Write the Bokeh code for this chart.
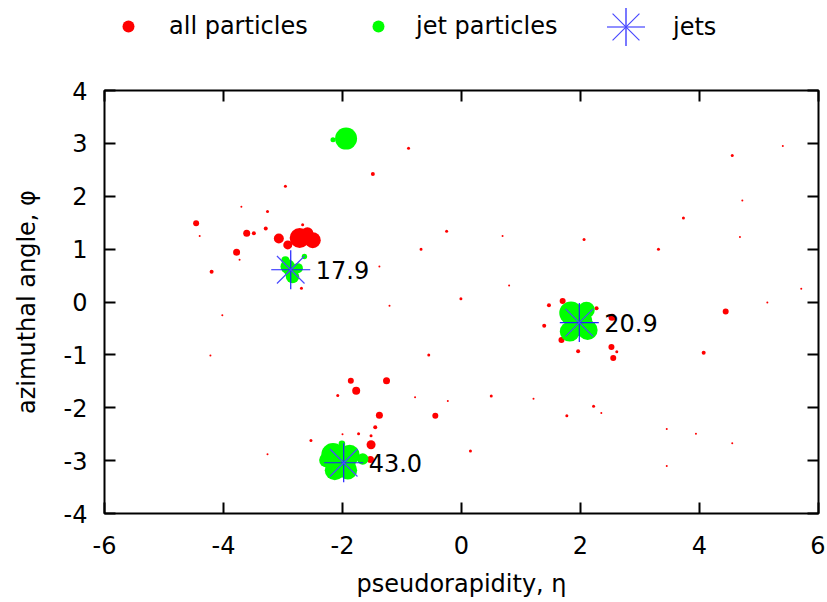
import numpy as np
from bokeh.plotting import figure
from bokeh.layouts import column
from bokeh.models import Range1d, FixedTicker, LinearAxis, Legend, LegendItem, ColumnDataSource
from bokeh.embed import file_html
from bokeh.resources import INLINE
from bokeh.core.properties import value

# ---------------- data ----------------
all_eta = [-4.46, -4.40, -3.61, -3.49, -3.29, -3.26, -3.70, -3.07, -2.92, -2.72,
           -2.50, -2.59, -2.67, -3.78, -3.73, -4.20, -4.02, -2.69, -2.96, -1.49,
           -0.89, 4.55, 5.40, 4.72, 3.73, -0.25, 0.69, 2.06, 3.31, -0.68,
           -1.38, 4.68, 4.44, 4.07, -0.01, -1.21, 0.80, -4.22, -0.55, 5.14,
           5.71, 1.70, 1.47, 1.39, 1.68, 1.96, 2.52, 2.55, 2.61, 2.53,
           2.27, -1.86, -1.26, -1.77, -2.08, -0.78, -0.23, 0.50, 1.21, -1.38,
           -0.44, -1.45, -1.52, -1.73, -2.00, -2.53, -1.52, -1.53, -3.26, 0.15,
           1.77, 2.22, 2.35, 3.45, 3.94, 4.55, 3.45]
all_phi = [1.49, 1.25, 1.30, 1.30, 1.39, 1.71, 1.80, 1.20, 1.08, 1.21,
           1.17, 1.30, 1.46, 0.94, 0.80, 0.57, -0.25, 0.26, 2.19, 2.42,
           2.91, 2.77, 2.95, 1.92, 1.59, 1.34, 1.25, 1.18, 1.00, 1.00,
           0.67, 1.23, -0.18, -0.96, 0.06, -0.07, 0.31, -1.01, -1.00, -0.01,
           0.25, 0.02, -0.06, -0.45, -0.72, -0.93, -0.85, -1.06, -0.94, -0.29,
           -0.12, -1.49, -1.49, -1.68, -1.77, -1.80, -1.87, -1.78, -1.83, -2.14,
           -2.15, -2.37, -2.53, -2.49, -2.50, -2.62, -2.70, -2.98, -2.88, -2.82,
           -2.15, -1.97, -2.10, -2.40, -2.49, -2.67, -3.10]
all_pt = [1.44, 0.16, 1.96, 0.64, 0.64, 0.36, 0.16, 4.00, 3.24, 16.0,
          10.24, 5.76, 0.36, 1.96, 0.16, 0.64, 0.16, 0.36, 0.36, 0.64,
          0.36, 0.36, 0.16, 0.16, 0.36, 0.36, 0.16, 0.36, 0.36, 0.36,
          0.16, 0.16, 1.44, 0.64, 0.36, 0.16, 0.16, 0.16, 0.36, 0.16,
          0.16, 1.44, 0.64, 0.64, 1.44, 0.64, 1.44, 1.44, 0.36, 1.96,
          0.64, 1.44, 1.96, 2.56, 0.36, 0.16, 0.16, 0.36, 0.16, 1.96,
          1.44, 0.64, 0.36, 0.36, 0.16, 0.36, 3.24, 1.96, 0.16, 0.36,
          0.36, 0.36, 0.16, 0.16, 0.16, 0.16, 0.16]

jetp_eta = [-2.92, -2.84, -2.75, -2.96, -2.64, -2.87,
            1.84, 2.10, 1.82, 2.12, 1.97,
            -2.16, -1.88, -2.13, -1.91, -2.27, -1.66, -2.01, -2.00, -2.02,
            -1.94, -2.16]
jetp_phi = [0.67, 0.48, 0.64, 0.79, 0.86, 0.58,
            -0.21, -0.15, -0.56, -0.53, -0.38,
            -2.89, -2.89, -3.18, -3.18, -2.99, -2.97, -2.68, -2.80, -3.03,
            3.09, 3.07]
jetp_pt = [8.5, 7.2, 4.0, 2.56, 1.17, 6.5,
           21.9, 11.0, 16.0, 16.0, 30.0,
           21.9, 16.0, 16.0, 13.8, 8.5, 5.2, 1.74, 4.0, 33.0,
           19.4, 1.0]

jet_eta = [-2.87, 1.98, -1.98]
jet_phi = [0.61, -0.39, -3.04]
jet_pt = [17.9, 20.9, 43.0]

x_ticks = [-6, -4, -2, 0, 2, 4, 6]
x_tick_labels = ["-6", "-4", "-2", "0", "2", "4", "6"]
y_ticks = [-4, -3, -2, -1, 0, 1, 2, 3, 4]
y_tick_labels = ["-4", "-3", "-2", "-1", "0", "1", "2", "3", "4"]

FONT = "DejaVu Sans"
FS = "24px"
RED = "#ff0000"
GREEN = "#00ff00"
BLUE_A = "#2020ff"
BLUE_B = "#4a4aff"

def msize(pt):
    return [5.0 * np.sqrt(v) for v in pt]

src_all = ColumnDataSource(dict(x=all_eta, y=all_phi, s=msize(all_pt)))
src_jp = ColumnDataSource(dict(x=jetp_eta, y=jetp_phi, s=msize(jetp_pt)))
src_jet = ColumnDataSource(dict(x=jet_eta, y=jet_phi, t=["%.1f" % v for v in jet_pt]))

# ---------------- main plot ----------------
p = figure(width=825, height=540, x_range=Range1d(-6, 6), y_range=Range1d(-4, 4),
           output_backend="svg", toolbar_location=None,
           min_border_left=104, min_border_right=7, min_border_top=30, min_border_bottom=87)
p.xgrid.visible = False
p.ygrid.visible = False
p.outline_line_color = "black"
p.outline_line_width = 2

def style_axis(ax, ticks, labels, show_labels):
    ax.ticker = FixedTicker(ticks=ticks)
    ax.major_label_overrides = {t: l for t, l in zip(ticks, labels)}
    ax.minor_tick_line_color = None
    ax.major_tick_in = 11
    ax.major_tick_out = 0
    ax.major_tick_line_width = 2
    ax.major_tick_line_color = "black"
    ax.axis_line_color = None
    ax.major_label_text_font = FONT
    if show_labels:
        ax.major_label_text_font_size = FS
        ax.major_label_text_color = "black"
    else:
        ax.major_label_text_font_size = "1px"
        ax.major_label_text_color = None
        ax.major_label_text_alpha = 0
        ax.major_label_standoff = 0

style_axis(p.xaxis[0], x_ticks, x_tick_labels, True)
style_axis(p.yaxis[0], y_ticks, y_tick_labels, True)
p.xaxis.major_label_standoff = 22
p.yaxis.major_label_standoff = 17
p.xaxis.axis_label = "pseudorapidity, η"
p.yaxis.axis_label = "azimuthal angle, φ"
for ax in (p.xaxis[0], p.yaxis[0]):
    ax.axis_label_text_font = FONT
    ax.axis_label_text_font_size = FS
    ax.axis_label_text_font_style = "normal"
    ax.axis_label_text_color = "black"
p.xaxis.axis_label_standoff = 13
p.yaxis.axis_label_standoff = 20

top_ax = LinearAxis()
style_axis(top_ax, x_ticks, x_tick_labels, False)
p.add_layout(top_ax, "above")
right_ax = LinearAxis()
style_axis(right_ax, y_ticks, y_tick_labels, False)
p.add_layout(right_ax, "right")

p.scatter("x", "y", size="s", source=src_all, fill_color=RED, line_color=None)
p.scatter("x", "y", size="s", source=src_jp, fill_color=GREEN, line_color=None)
p.scatter("x", "y", size=39, source=src_jet, marker="cross", line_color=BLUE_A, line_width=1.2)
p.scatter("x", "y", size=39, source=src_jet, marker="x", line_color=BLUE_B, line_width=1.2)
p.text("x", "y", text="t", source=src_jet, x_offset=25, text_baseline="middle", text_align="left",
       text_font=value(FONT), text_font_size=FS, text_color="black")

# ---------------- key (legend strip above the plot) ----------------
lf = figure(width=825, height=60, x_range=Range1d(100, 101), y_range=Range1d(100, 101),
            output_backend="svg", toolbar_location=None, x_axis_type=None, y_axis_type=None,
            min_border=0, outline_line_color=None)
lf.xgrid.visible = False
lf.ygrid.visible = False
# same data, drawn out of this strip's view; only used as legend samples
k_all = lf.scatter("x", "y", size="s", source=src_all, fill_color=RED, line_color=None)
k_jp = lf.scatter("x", "y", size="s", source=src_jp, fill_color=GREEN, line_color=None)
k_jc = lf.scatter("x", "y", size=39, source=src_jet, marker="cross", line_color=BLUE_A, line_width=1.2)
k_jx = lf.scatter("x", "y", size=39, source=src_jet, marker="x", line_color=BLUE_B, line_width=1.2)

def mk_legend(label, rends, loc, gw, standoff):
    return Legend(items=[LegendItem(label=value(label), renderers=rends)], location=loc,
                  orientation="horizontal", glyph_width=gw, glyph_height=gw, label_standoff=standoff,
                  padding=0, margin=0, border_line_alpha=0, background_fill_alpha=0,
                  label_text_font=FONT, label_text_font_size=FS, label_text_color="black",
                  label_text_baseline="middle")

lf.add_layout(mk_legend("all particles", [k_all], (9, 19), 30, 26))
lf.add_layout(mk_legend("jet particles", [k_jp], (259, 19), 30, 23))
lf.add_layout(mk_legend("jets", [k_jc, k_jx], (474, -14), 95, -6))

layout = column(lf, p, spacing=0)
open("out.html", "w").write(file_html(layout, INLINE))
